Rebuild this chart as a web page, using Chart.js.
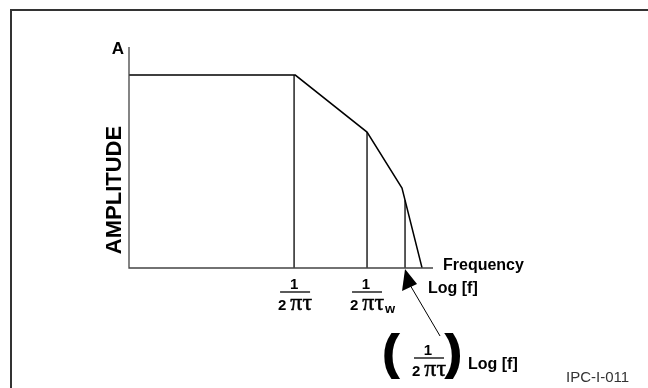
<!DOCTYPE html>
<html lang="en">
<head>
    <meta charset="UTF-8" />
    <title>Amplitude vs Log Frequency</title>
    <script src="https://cdn.jsdelivr.net/npm/chart.js"></script>
    <style>
        body { margin: 0; background: #fff; }
        canvas { display: block; }
    </style>
</head>
<body>
    <canvas id="ampChart" width="648" height="388"></canvas>

    <script>
        // Response curve breakpoints (log frequency, amplitude)
        const logF = [0, 5.47, 7.83, 8.98, 9.64];
        const amplitude = [8.73, 8.73, 6.15, 3.62, 0];

        // Vertical marker lines at the corner frequencies
        const cutoffs = [5.43, 7.83, 9.08];
        const cutoffLevels = [8.73, 6.15, 3.07];
        const cutoffSubs = ['', 'w'];

        const SANS = '"Liberation Sans", Arial, sans-serif';
        const SERIF = '"Liberation Serif", "Times New Roman", serif';

        function drawFraction(ctx, cx, yLine, sub) {
            ctx.fillStyle = '#000';
            ctx.textBaseline = 'alphabetic';
            ctx.textAlign = 'center';
            ctx.font = 'bold 15px ' + SANS;
            ctx.fillText('1', cx - 1, yLine - 3);

            ctx.strokeStyle = '#000';
            ctx.lineWidth = 1.3;
            ctx.beginPath();
            ctx.moveTo(cx - 15, yLine);
            ctx.lineTo(cx + 15, yLine);
            ctx.stroke();

            // denominator: "2" in sans bold, pi and tau in serif
            ctx.textAlign = 'left';
            ctx.font = 'bold 15px ' + SANS;
            const w2 = ctx.measureText('2').width + 4;
            ctx.font = '24px ' + SERIF;
            const wPt = ctx.measureText('\u03c0\u03c4').width;
            let x = cx - (w2 + wPt) / 2;
            const base = yLine + 18;
            ctx.font = 'bold 15px ' + SANS;
            ctx.fillText('2', x, base);
            x += w2;
            ctx.font = '24px ' + SERIF;
            ctx.lineWidth = 0.5;
            ctx.fillText('\u03c0\u03c4', x, base);
            ctx.strokeText('\u03c0\u03c4', x, base);
            x += wPt;
            if (sub) {
                ctx.font = 'bold 13px ' + SANS;
                ctx.fillText(sub, x + 1, base + 3);
            }
        }

        const decorations = {
            id: 'decorations',
            afterDraw(chart) {
                const ctx = chart.ctx;
                const xs = chart.scales.x;
                const ys = chart.scales.y;
                const x0 = xs.getPixelForValue(0);
                const y0 = ys.getPixelForValue(0);

                ctx.save();

                // outer frame
                ctx.strokeStyle = '#333';
                ctx.lineWidth = 2;
                ctx.strokeRect(11, 10, 700, 500);

                // axes
                ctx.strokeStyle = '#444';
                ctx.lineWidth = 1.3;
                ctx.beginPath();
                ctx.moveTo(x0, ys.getPixelForValue(10));
                ctx.lineTo(x0, y0);
                ctx.lineTo(xs.getPixelForValue(10), y0);
                ctx.stroke();

                // axis titles
                ctx.fillStyle = '#000';
                ctx.font = 'bold 17px ' + SANS;
                ctx.textAlign = 'center';
                ctx.textBaseline = 'alphabetic';
                ctx.fillText('A', x0 - 11, ys.getPixelForValue(10) + 7);

                ctx.save();
                ctx.translate(x0 - 14, 190);
                ctx.rotate(-Math.PI / 2);
                ctx.font = 'bold 22px ' + SANS;
                ctx.textBaseline = 'middle';
                ctx.fillText('AMPLITUDE', 0, 0);
                ctx.restore();

                ctx.textAlign = 'left';
                ctx.font = 'bold 16px ' + SANS;
                ctx.fillText('Frequency', 443, 270);
                ctx.fillText('Log [f]', 428, 293);

                // corner frequency labels
                drawFraction(ctx, xs.getPixelForValue(cutoffs[0]) + 1, y0 + 24, cutoffSubs[0]);
                drawFraction(ctx, xs.getPixelForValue(cutoffs[1]), y0 + 24, cutoffSubs[1]);

                // pointer arrow to the last corner
                const tipX = xs.getPixelForValue(cutoffs[2]);
                const tipY = y0 + 1;
                ctx.fillStyle = '#000';
                ctx.beginPath();
                ctx.moveTo(tipX, tipY);
                ctx.lineTo(tipX - 3, tipY + 22);
                ctx.lineTo(tipX + 12, tipY + 15);
                ctx.closePath();
                ctx.fill();
                ctx.strokeStyle = '#000';
                ctx.lineWidth = 1;
                ctx.beginPath();
                ctx.moveTo(tipX + 5, tipY + 16);
                ctx.lineTo(tipX + 35, tipY + 67);
                ctx.stroke();

                // bracketed label below the arrow
                ctx.fillStyle = '#000';
                ctx.strokeStyle = '#000';
                ctx.lineWidth = 2;
                ctx.textAlign = 'left';
                ctx.font = 'bold 46px ' + SANS;
                ctx.fillText('(', 383, 368);
                ctx.strokeText('(', 383, 368);
                ctx.fillText(')', 446, 368);
                ctx.strokeText(')', 446, 368);
                drawFraction(ctx, 429, 358, '');
                ctx.fillStyle = '#000';
                ctx.textAlign = 'left';
                ctx.font = 'bold 16px ' + SANS;
                ctx.fillText('Log [f]', 468, 369);

                ctx.fillStyle = '#333';
                ctx.font = '15px ' + SANS;
                ctx.fillText('IPC-I-011', 566, 382);

                ctx.restore();
            }
        };

        const datasets = [{
            data: logF.map((f, i) => ({ x: f, y: amplitude[i] })),
            borderColor: '#000',
            borderWidth: 1.5,
            pointRadius: 0,
            showLine: true,
            tension: 0
        }];
        cutoffs.forEach((c, i) => {
            datasets.push({
                data: [{ x: c, y: 0 }, { x: c, y: cutoffLevels[i] }],
                borderColor: '#000',
                borderWidth: 1.3,
                pointRadius: 0,
                showLine: true
            });
        });

        new Chart(document.getElementById('ampChart'), {
            type: 'scatter',
            data: { datasets: datasets },
            options: {
                responsive: false,
                animation: false,
                devicePixelRatio: 1,
                layout: { padding: { left: 129, top: 47, right: 215, bottom: 120 } },
                plugins: {
                    legend: { display: false },
                    tooltip: { enabled: false }
                },
                scales: {
                    x: { type: 'linear', min: 0, max: 10, display: false },
                    y: { type: 'linear', min: 0, max: 10, display: false }
                }
            },
            plugins: [decorations]
        });
    </script>
</body>
</html>
